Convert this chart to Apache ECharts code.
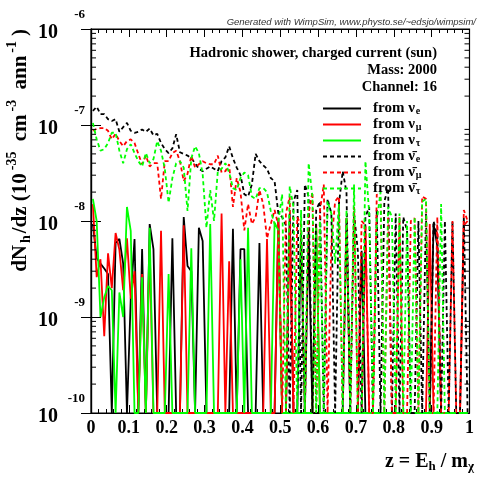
<!DOCTYPE html>
<html><head><meta charset="utf-8">
<script src="https://cdn.jsdelivr.net/npm/echarts@6/dist/echarts.min.js"></script>
<style>html,body{margin:0;padding:0;background:#fff}#c{width:477px;height:479px}</style>
</head><body><div id="c"></div>
<script>
// dN_h/dz per bin (100 bins of z, width 0.01); 0 = empty bin
const nuE = [
 9.3e-9,4.1e-9,3.6e-9,3.2e-9,2.8e-9,0,5.9e-9,6.5e-9,3.6e-9,0,
 1.55e-9,6.5e-9,0,5.1e-9,0,9.3e-9,5.1e-9,0,0,0,
 0,6.6e-9,0,0,1.1e-8,3.4e-9,3.0e-9,0,8.5e-9,6.2e-9,
 0,0,0,0,0,0,0,8.3e-9,0,5.1e-9,
 5.1e-9,0,0,0,5.9e-9,0,0,0,0,1.07e-8,
 0,0,1.2e-8,0,0,7.5e-9,0,7.9e-9,0,0,
 0,0,0,0,0,0,0,1.07e-8,0,0,
 0,4.9e-9,0,0,0,0,0,0,0,0,
 0,0,0,0,0,0,0,0,0,0,
 9.3e-9,5.5e-9,0,0,0,0,0,0,0,0];
const nuMu = [
 1.5e-8,2.6e-9,4.0e-9,6.3e-10,4.6e-9,2.0e-9,7.5e-9,5.0e-9,1.9e-9,6.6e-9,
 1.55e-9,3.0e-9,0,2.8e-9,0,5.6e-9,0,0,7.9e-9,0,
 0,0,0,0,9.0e-9,0,0,0,0,0,
 0,0,0,0,1.2e-8,0,3.8e-9,0,0,0,
 0,0,0,0,0,0,6.5e-9,0,0,1.07e-8,
 0,0,8.5e-9,0,0,0,0,0,0,9.3e-9,
 0,0,0,0,0,0,0,0,0,0,
 0,0,9.0e-9,0,0,0,0,0,0,0,
 0,0,0,0,0,0,0,0,0,9.3e-9,
 0,0,0,0,0,0,0,0,9.0e-9,1.0e-8];
const nuTau = [
 1.7e-8,1.0e-8,1.0e-9,1.6e-9,2.1e-9,1.9e-9,0,1.8e-9,1.0e-9,1.4e-8,
 7.9e-9,0,0,2.6e-9,0,8.5e-9,0,0,0,0,
 2.8e-9,0,0,0,0,0,5.2e-9,0,0,0,
 0,9.3e-9,0,0,0,0,0,0,0,4.0e-9,
 0,8.5e-9,0,0,0,0,0,0,9.6e-9,8.0e-9,
 0,0,0,0,0,0,0,0,0,8.5e-9,
 0,0,0,0,0,0,0,0,0,0,
 0,0,0,0,0,0,0,0,0,0,
 0,0,0,0,0,0,0,0,0,0,
 0,0,0,0,0,0,0,0,0,0];
const nuEbar = [
 1.4e-7,1.55e-7,1.3e-7,1.3e-7,1.15e-7,1.1e-7,1.15e-7,8.5e-8,9.5e-8,1.05e-7,
 8.7e-8,8.3e-8,8.5e-8,9.0e-8,8.5e-8,9.2e-8,7.8e-8,8.1e-8,6.5e-8,5.6e-8,
 5.1e-8,5.7e-8,8.0e-8,5.2e-8,5.0e-8,4.8e-8,4.5e-8,4.0e-8,3.5e-8,3.3e-8,
 3.5e-8,3.7e-8,3.5e-8,3.3e-8,4.2e-8,4.6e-8,6.0e-8,4.5e-8,3.6e-8,3.0e-8,
 1.9e-8,1.8e-8,2.4e-8,5.0e-8,4.2e-8,3.8e-8,3.5e-8,2.8e-8,2.6e-8,1.2e-8,
 1.1e-8,9e-9,0,1.6e-8,2.1e-8,0,2.4e-8,1.8e-8,0,1.3e-8,
 1.6e-8,0,1.7e-8,1.2e-8,0,1.5e-8,3.3e-8,2.0e-8,0,1.2e-8,
 4.9e-9,0,1.1e-8,1.4e-8,0,1.3e-8,0,1.6e-8,2.2e-8,0,
 1.2e-8,0,1.1e-8,8e-9,0,0,1.0e-8,0,1.2e-8,0,
 1.0e-8,7e-9,0,1.0e-8,0,1.0e-8,0,0,1.1e-8,0];
const nuMubar = [
 8.7e-8,9.1e-8,9.3e-8,9.3e-8,8.7e-8,7.1e-8,8.1e-8,6.8e-8,6.0e-8,6.8e-8,
 7.1e-8,6.5e-8,5.0e-8,3.9e-8,4.8e-8,3.7e-8,4.0e-8,4.0e-8,1.7e-8,4.2e-8,
 4.2e-8,5.1e-8,5.4e-8,4.2e-8,2.6e-8,3.1e-8,4.8e-8,3.6e-8,3.9e-8,4.2e-8,
 4.0e-8,3.9e-8,3.9e-8,4.8e-8,3.2e-8,3.3e-8,3.9e-8,1.4e-8,2.8e-8,2.0e-8,
 8e-9,1.5e-8,9.3e-9,1.1e-8,2.1e-8,1.5e-8,6.6e-9,9.3e-9,1.3e-8,9e-9,
 0,1.2e-8,1.8e-8,0,1.1e-8,9e-9,0,1.2e-8,2.0e-8,0,
 1.3e-8,2.4e-8,0,5.8e-9,1.6e-8,1.8e-8,0,1.1e-8,0,1.4e-8,
 0,1.0e-8,9e-9,0,0,1.9e-8,1.7e-8,0,1.1e-8,0,
 0,1.1e-8,0,0,1.0e-8,1.07e-8,0,1.8e-8,1.7e-8,0,
 0,1.1e-8,0,0,0,1.0e-8,0,0,1.3e-8,1.0e-8];
const nuTaubar = [
 1.05e-7,7.1e-8,5.4e-8,5.6e-8,6.5e-8,8.3e-8,8.3e-8,5.4e-8,4.0e-8,5.6e-8,
 6.3e-8,5.1e-8,4.2e-8,3.7e-8,5.1e-8,4.0e-8,4.4e-8,6.8e-8,5.4e-8,3.5e-8,
 1.55e-8,2.8e-8,4.0e-8,4.2e-8,3.6e-8,1.27e-8,4.5e-8,6.0e-8,5.1e-8,3.1e-8,
 8.5e-9,2.1e-8,1.0e-8,3.3e-8,3.5e-8,4.0e-8,3.2e-8,2.2e-8,2.1e-8,2.8e-8,
 3.2e-8,3.0e-8,1.8e-8,1.7e-8,2.2e-8,2.2e-8,2.0e-8,1.27e-8,9.3e-9,1.0e-8,
 1.9e-8,0,2.3e-8,1.4e-8,0,1.3e-8,0,4.0e-8,1.8e-8,0,
 1.0e-8,0,1.6e-8,1.2e-8,3.6e-9,1.5e-8,0,1.3e-8,0,2.4e-8,
 0,0,4.2e-8,1.2e-8,0,1.0e-8,2.0e-8,0,1.4e-8,1.1e-8,
 0,1.2e-8,0,1.0e-8,0,1.1e-8,0,1.6e-8,1.7e-8,0,
 0,0,1.5e-8,0,0,0,0,0,0,0];

const yMin = 1e-10, yMax = 1e-6;
const zBins = nuE.map((_, i) => +(0.005 + 0.01 * i).toFixed(3));
const pts = arr => arr.map((v, i) => [zBins[i], v > 0 ? v : yMin]);

const SERIF = '"Liberation Serif","DejaVu Serif",serif';
const legendMap = {
  nue: 'from {n|ν}{s|e}', numu: 'from {n|ν}{s|μ}', nutau: 'from {n|ν}{s|τ}',
  nuebar: 'from {n|ν\u0304}{s|e}', numubar: 'from {n|ν\u0304}{s|μ}', nutaubar: 'from {n|ν\u0304}{s|τ}'
};
const mk = (name, data, color, dashed) => ({
  name, type: 'line', data: pts(data), symbol: 'none', showSymbol: false, animation: false,
  lineStyle: { color, width: 1.8, type: dashed ? [4, 3] : 'solid' }, itemStyle: { color }, clip: true
});

// minor log ticks positions
const minorY = [];
for (let k = -10; k < -6; k++) for (let m = 2; m <= 9; m++) minorY.push([0, m * Math.pow(10, k)]);

const chart = echarts.init(document.getElementById('c'), null, { renderer: 'canvas' });
const axisCommon = {
  axisLine: { show: true, lineStyle: { color: '#000', width: 1.2 } },
  splitLine: { show: false }
};
chart.setOption({
  animation: false,
  backgroundColor: '#fff',
  grid: { left: 91, top: 29, width: 383, height: 384, show: true, borderColor: '#000', borderWidth: 1.2, backgroundColor: 'transparent' },
  xAxis: [
    Object.assign({ type: 'value', min: 0, max: 1, interval: 0.1, position: 'bottom',
      axisTick: { inside: true, length: 8, lineStyle: { color: '#000' } },
      minorTick: { show: true, splitNumber: 5, length: 4, lineStyle: { color: '#000' } },
      axisLabel: { color: '#000', fontFamily: SERIF, fontWeight: 'bold', fontSize: 18, margin: 6 } }, axisCommon),
    Object.assign({ type: 'value', min: 0, max: 1, interval: 0.1, position: 'top',
      axisTick: { inside: true, length: 8, lineStyle: { color: '#000' } },
      minorTick: { show: true, splitNumber: 5, length: 4, lineStyle: { color: '#000' } },
      axisLabel: { show: false } }, axisCommon)
  ],
  yAxis: [
    Object.assign({ type: 'log', logBase: 10, min: yMin, max: yMax, position: 'left',
      axisTick: { inside: true, length: 10, lineStyle: { color: '#000' } },
      axisLabel: { margin: 6, color: '#000',
        formatter: v => '{b|10}{s|' + Math.round(Math.log10(v)) + '}',
        rich: {
          b: { fontFamily: SERIF, fontWeight: 'bold', fontSize: 20, color: '#000', padding: [8, 0, 0, 0] },
          s: { fontFamily: SERIF, fontWeight: 'bold', fontSize: 13, color: '#000', width: 27, align: 'right', padding: [0, 0, 28, 0] }
        } } }, axisCommon),
    Object.assign({ type: 'log', logBase: 10, min: yMin, max: yMax, position: 'right',
      axisTick: { inside: true, length: 10, lineStyle: { color: '#000' } },
      axisLabel: { show: false } }, axisCommon)
  ],
  legend: {
    orient: 'vertical', left: 322, top: 101, padding: 0, itemWidth: 38, itemHeight: 14, itemGap: 0.5,
    selectedMode: false,
    itemStyle: { opacity: 0 },
    data: ['nue', 'numu', 'nutau', 'nuebar', 'numubar', 'nutaubar'],
    formatter: name => legendMap[name],
    textStyle: { color: '#000', fontFamily: SERIF, fontWeight: 'bold', fontSize: 15, padding: [0, 0, 0, 7],
      rich: {
        n: { fontFamily: SERIF, fontWeight: 'bold', fontSize: 15, color: '#000' },
        s: { fontFamily: SERIF, fontWeight: 'bold', fontSize: 10, color: '#000', padding: [6, 0, 0, 1] }
      } }
  },
  graphic: [
    { type: 'text', x: 476, y: 22, style: { text: 'Generated with WimpSim, www.physto.se/~edsjo/wimpsim/', align: 'right', verticalAlign: 'middle',
        fontFamily: '"Liberation Sans",Arial,sans-serif', fontStyle: 'italic', fontSize: 9.5, fill: '#333' } },
    { type: 'text', x: 437, y: 53, style: { text: 'Hadronic shower, charged current (sun)', align: 'right', verticalAlign: 'middle',
        fontFamily: SERIF, fontWeight: 'bold', fontSize: 14.5, fill: '#000' } },
    { type: 'text', x: 437, y: 70, style: { text: 'Mass: 2000', align: 'right', verticalAlign: 'middle',
        fontFamily: SERIF, fontWeight: 'bold', fontSize: 14.5, fill: '#000' } },
    { type: 'text', x: 437, y: 87, style: { text: 'Channel: 16', align: 'right', verticalAlign: 'middle',
        fontFamily: SERIF, fontWeight: 'bold', fontSize: 14.5, fill: '#000' } },
    { type: 'text', x: 474, y: 462, style: { text: 'z = E{sub|h} / m{sub|χ}', align: 'right', verticalAlign: 'middle',
        fontFamily: SERIF, fontWeight: 'bold', fontSize: 20, fill: '#000',
        rich: { sub: { fontFamily: SERIF, fontWeight: 'bold', fontSize: 13, fill: '#000', padding: [10, 0, 0, 0] } } } },
    { type: 'text', x: 21, y: 29, rotation: Math.PI / 2,
      style: { text: 'dN{sub|h}/dz (10{sup|-35} cm{sup|-3} ann{sup|-1})', align: 'right', verticalAlign: 'middle',
        fontFamily: SERIF, fontWeight: 'bold', fontSize: 21, fill: '#000',
        rich: { sub: { fontFamily: SERIF, fontWeight: 'bold', fontSize: 14, fill: '#000', padding: [10, 2, 0, 2] },
                sup: { fontFamily: SERIF, fontWeight: 'bold', fontSize: 14, fill: '#000', padding: [0, 5, 18, 3] } } } }
  ],
  series: [
    mk('nue', nuE, '#000000', false),
    mk('numu', nuMu, '#ff0000', false),
    mk('nutau', nuTau, '#00ff00', false),
    mk('nuebar', nuEbar, '#000000', true),
    mk('numubar', nuMubar, '#ff0000', true),
    mk('nutaubar', nuTaubar, '#00ff00', true),
    { type: 'custom', xAxisIndex: 0, yAxisIndex: 0, data: minorY, silent: true, clip: false, z: 5,
      renderItem: (params, api) => {
        const v = api.value(1);
        const pL = api.coord([0, v]);
        const pR = api.coord([1, v]);
        return { type: 'group', children: [
          { type: 'line', shape: { x1: pL[0], y1: pL[1], x2: pL[0] + 5, y2: pL[1] }, style: { stroke: '#000', lineWidth: 1 } },
          { type: 'line', shape: { x1: pR[0] - 5, y1: pR[1], x2: pR[0], y2: pR[1] }, style: { stroke: '#000', lineWidth: 1 } }
        ] };
      } }
  ]
});
</script>
</body></html>
